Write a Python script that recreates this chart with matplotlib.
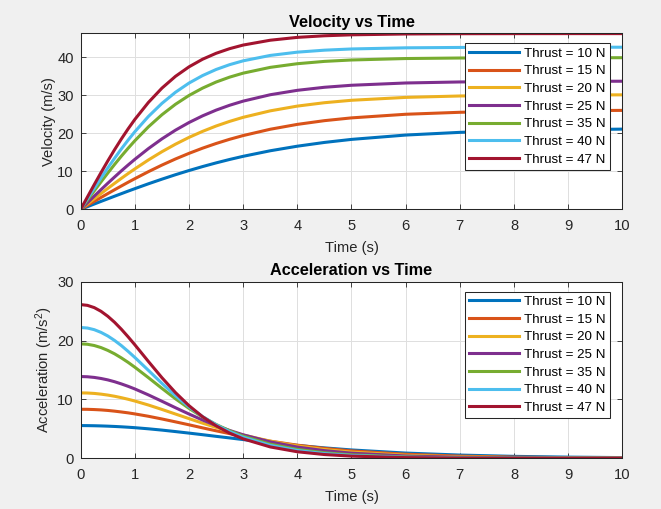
import matplotlib
matplotlib.use("Agg")
import matplotlib.pyplot as plt

# ---------------- data ----------------
time_s = [0, 0.125, 0.25, 0.375, 0.5, 0.625, 0.75, 0.875, 1, 1.25, 1.5, 1.75, 2, 2.25,
          2.5, 2.75, 3, 3.5, 4, 4.5, 5, 6, 7, 8, 9, 10]

thrusts = [10, 15, 20, 25, 35, 40, 47]

vel_10 = [0, 0.69, 1.39, 2.08, 2.76, 3.44, 4.11, 4.78, 5.43, 6.71, 7.93, 9.10, 10.20, 11.24,
          12.21, 13.11, 13.94, 15.40, 16.60, 17.59, 18.39, 19.53, 20.24, 20.67, 20.93, 21.09]
vel_15 = [0, 1.04, 2.08, 3.11, 4.13, 5.14, 6.13, 7.11, 8.06, 9.90, 11.63, 13.24, 14.72, 16.08,
          17.31, 18.42, 19.40, 21.06, 22.34, 23.32, 24.05, 25.00, 25.52, 25.80, 25.95, 26.02]
vel_20 = [0, 1.39, 2.77, 4.14, 5.49, 6.82, 8.13, 9.40, 10.63, 12.98, 15.15, 17.13, 18.92, 20.50,
          21.91, 23.13, 24.20, 25.90, 27.15, 28.04, 28.68, 29.44, 29.81, 29.99, 30.07, 30.11]
vel_25 = [0, 1.73, 3.46, 5.17, 6.85, 8.49, 10.10, 11.65, 13.15, 15.97, 18.53, 20.82, 22.83, 24.58,
          26.09, 27.37, 28.46, 30.14, 31.30, 32.10, 32.63, 33.23, 33.50, 33.62, 33.67, 33.69]
vel_35 = [0, 2.43, 4.84, 7.21, 9.53, 11.79, 13.97, 16.05, 18.04, 21.69, 24.88, 27.63, 29.95, 31.88,
          33.48, 34.77, 35.82, 37.34, 38.30, 38.91, 39.28, 39.66, 39.80, 39.85, 39.87, 39.88]
vel_40 = [0, 2.77, 5.52, 8.23, 10.87, 13.42, 15.87, 18.20, 20.41, 24.42, 27.87, 30.79, 33.21, 35.18,
          36.78, 38.05, 39.06, 40.48, 41.34, 41.86, 42.18, 42.48, 42.58, 42.62, 42.63, 42.64]
vel_47 = [0, 3.26, 6.49, 9.65, 12.72, 15.67, 18.49, 21.15, 23.65, 28.11, 31.88, 34.98, 37.48, 39.48,
          41.04, 42.26, 43.21, 44.48, 45.23, 45.65, 45.90, 46.12, 46.19, 46.21, 46.22, 46.22]

acc_10 = [5.56, 5.55, 5.53, 5.50, 5.46, 5.41, 5.35, 5.28, 5.20, 5.01, 4.79, 4.54, 4.28, 4.01,
          3.73, 3.46, 3.18, 2.66, 2.19, 1.77, 1.42, 0.89, 0.55, 0.33, 0.20, 0.12]
acc_15 = [8.33, 8.32, 8.28, 8.22, 8.13, 8.01, 7.87, 7.72, 7.54, 7.14, 6.68, 6.19, 5.69, 5.17,
          4.67, 4.19, 3.73, 2.91, 2.23, 1.69, 1.26, 0.69, 0.37, 0.20, 0.11, 0.06]
acc_20 = [11.11, 11.09, 11.02, 10.90, 10.74, 10.54, 10.30, 10.03, 9.73, 9.05, 8.30, 7.52, 6.74, 5.97,
          5.25, 4.57, 3.96, 2.91, 2.10, 1.50, 1.06, 0.52, 0.25, 0.12, 0.06, 0.03]
acc_25 = [13.89, 13.85, 13.74, 13.56, 13.32, 13.01, 12.64, 12.23, 11.78, 10.77, 9.69, 8.59, 7.52, 6.50,
          5.57, 4.73, 3.99, 2.79, 1.91, 1.30, 0.87, 0.39, 0.17, 0.08, 0.03, 0.02]
acc_35 = [19.44, 19.37, 19.16, 18.81, 18.33, 17.75, 17.06, 16.30, 15.47, 13.70, 11.88, 10.11, 8.48, 7.02,
          5.75, 4.67, 3.76, 2.40, 1.51, 0.94, 0.59, 0.22, 0.08, 0.03, 0.01, 0.00]
acc_40 = [22.22, 22.13, 21.85, 21.39, 20.78, 20.02, 19.15, 18.17, 17.13, 14.94, 12.73, 10.64, 8.74, 7.09,
          5.69, 4.53, 3.58, 2.20, 1.33, 0.80, 0.48, 0.17, 0.06, 0.02, 0.01, 0.00]
acc_47 = [26.11, 25.98, 25.60, 24.97, 24.13, 23.11, 21.93, 20.64, 19.28, 16.45, 13.69, 11.16, 8.94, 7.06,
          5.52, 4.28, 3.30, 1.93, 1.11, 0.64, 0.37, 0.12, 0.04, 0.01, 0.00, 0.00]

velocities = [vel_10, vel_15, vel_20, vel_25, vel_35, vel_40, vel_47]
accelerations = [acc_10, acc_15, acc_20, acc_25, acc_35, acc_40, acc_47]

x_ticks = [0, 1, 2, 3, 4, 5, 6, 7, 8, 9, 10]
v_ticks = [0, 10, 20, 30, 40]
a_ticks = [0, 10, 20, 30]

# ---------------- style ----------------
colors = ["#0072BD", "#D95319", "#EDB120", "#7E2F8E", "#77AC30", "#4DBEEE", "#A2142F"]
FONT = ["Liberation Sans", "DejaVu Sans"]
plt.rcParams["font.family"] = FONT
plt.rcParams["mathtext.fontset"] = "custom"
plt.rcParams["mathtext.rm"] = "Liberation Sans"
plt.rcParams["mathtext.it"] = "Liberation Sans:italic"
plt.rcParams["mathtext.default"] = "regular"

W, H = 661, 509
fig = plt.figure(figsize=(W / 100, H / 100), dpi=100, facecolor="#f0f0f0")

AX_COLOR = "#262626"
GRID_COLOR = "#dfdfdf"
TICK_FS = 10.6
TITLE_FS = 11.7
LEG_FS = 9.6
AX_LEFT, AX_RIGHT = 80.7, 622.3


def px_rect(left, top, right, bottom):
    return [left / W, 1 - bottom / H, (right - left) / W, (bottom - top) / H]


def style_axes(ax, yticks, ylim, ylabel, title, label_px):
    ax.set_facecolor("white")
    ax.set_xlim(0, 10)
    ax.set_ylim(*ylim)
    ax.set_xticks(x_ticks)
    ax.set_yticks(yticks)
    ax.grid(True, color=GRID_COLOR, linewidth=0.7)
    ax.set_axisbelow(True)
    ax.tick_params(direction="in", length=3.8, width=0.6, colors=AX_COLOR,
                   labelsize=TICK_FS, top=True, right=True)
    ax.tick_params(axis="x", pad=7)
    ax.tick_params(axis="y", pad=5)
    for sp in ax.spines.values():
        sp.set_color(AX_COLOR)
        sp.set_linewidth(0.75)
    ax.set_xlabel("Time (s)", fontsize=TICK_FS, color=AX_COLOR, labelpad=6)
    ax.set_ylabel(ylabel, fontsize=TICK_FS, color=AX_COLOR)
    ax.yaxis.set_label_coords((label_px - AX_LEFT) / (AX_RIGHT - AX_LEFT), 0.5)
    ax.set_title(title, fontsize=TITLE_FS, fontweight="bold", color="black", pad=4.5)


def add_legend(ax, top_px):
    leg = ax.legend(loc="upper right",
                    bbox_to_anchor=(609.5 / W, 1 - top_px / H),
                    bbox_transform=fig.transFigure, borderaxespad=0,
                    fontsize=LEG_FS, frameon=True, fancybox=False, shadow=False,
                    handlelength=3.75, handletextpad=0.33, borderpad=0.3,
                    labelspacing=0.4)
    fr = leg.get_frame()
    fr.set_edgecolor(AX_COLOR)
    fr.set_linewidth(0.75)
    fr.set_facecolor("white")
    fr.set_alpha(1)
    for txt in leg.get_texts():
        txt.set_color("black")


ax1 = fig.add_axes(px_rect(AX_LEFT, 33.3, AX_RIGHT, 209.3))
for T, v, c in zip(thrusts, velocities, colors):
    ax1.plot(time_s, v, color=c, linewidth=2.2, label=f"Thrust = {T} N",
             solid_joinstyle="round")
style_axes(ax1, v_ticks, (0, 46.3), "Velocity (m/s)", "Velocity vs Time", 56.0)
add_legend(ax1, 43.3)

ax2 = fig.add_axes(px_rect(AX_LEFT, 281.7, AX_RIGHT, 458.3))
for T, a, c in zip(thrusts, accelerations, colors):
    ax2.plot(time_s, a, color=c, linewidth=2.2, label=f"Thrust = {T} N",
             solid_joinstyle="round")
style_axes(ax2, a_ticks, (0, 30), "Acceleration (m/s$^2$)", "Acceleration vs Time", 55.5)
add_legend(ax2, 291.7)

fig.savefig("out.png", dpi=100, facecolor=fig.get_facecolor())
